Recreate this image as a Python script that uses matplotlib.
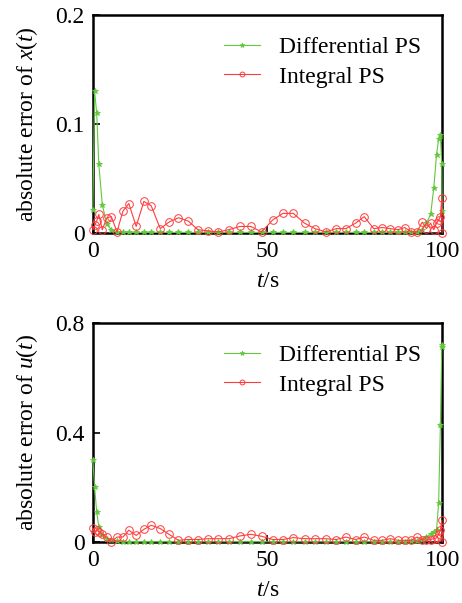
import matplotlib
matplotlib.use("Agg")
import matplotlib.pyplot as plt

# time nodes (pseudospectral nodes, clustered at the ends)
t_nodes = [0, 0.5, 1.1, 1.7, 2.7, 4.0, 5.3, 6.9, 8.6, 10.3, 12.4, 14.6, 16.7, 19.3,
           21.8, 24.5, 27.3, 30.1, 33.0, 35.9, 38.9, 42.1, 45.2, 48.3, 51.5, 54.4,
           57.4, 60.6, 63.6, 66.7, 69.7, 72.4, 75.2, 77.7, 80.4, 82.8, 85.2, 87.3,
           89.3, 91.2, 92.8, 94.3, 95.5, 96.7, 97.6, 98.4, 99.0, 99.5, 99.9, 100]

# absolute error of x(t)
x_diff = [0.021, 0.13, 0.11, 0.063, 0.026, 0.008, 0.003, 0.001, 0.0005, 0.0005,
          0.0005, 0.0005, 0.0005, 0.0005, 0.0005, 0.0005, 0.0005, 0.0005, 0.0005, 0.0005,
          0.0005, 0.0005, 0.0005, 0.0005, 0.0005, 0.0005, 0.0005, 0.0005, 0.0005, 0.0005,
          0.0005, 0.0005, 0.0005, 0.0005, 0.0005, 0.0005, 0.0005, 0.0005, 0.0005, 0.0005,
          0.001, 0.003, 0.009, 0.017, 0.041, 0.072, 0.086, 0.09, 0.063, 0.02]
x_int = [0.003, 0.007, 0.011, 0.017, 0.003, 0.014, 0.015, 0.001, 0.020, 0.027,
         0.006, 0.029, 0.025, 0.004, 0.010, 0.014, 0.011, 0.003, 0.002, 0.001,
         0.003, 0.006, 0.006, 0.001, 0.012, 0.018, 0.018, 0.009, 0.004, 0.001,
         0.004, 0.004, 0.009, 0.015, 0.004, 0.005, 0.004, 0.003, 0.005, 0.001,
         0.001, 0.010, 0.004, 0.009, 0.003, 0.009, 0.012, 0.015, 0.032, 0.0]

# absolute error of u(t)
u_diff = [0.30, 0.20, 0.11, 0.055, 0.024, 0.012, 0.006, 0.002, 0.001, 0.001,
          0.001, 0.001, 0.001, 0.001, 0.001, 0.001, 0.001, 0.001, 0.001, 0.001,
          0.001, 0.001, 0.001, 0.001, 0.001, 0.001, 0.001, 0.001, 0.001, 0.001,
          0.001, 0.001, 0.001, 0.001, 0.001, 0.001, 0.001, 0.001, 0.001, 0.002,
          0.004, 0.008, 0.018, 0.030, 0.037, 0.045, 0.143, 0.427, 0.714, 0.72]
u_int = [0.050, 0.037, 0.043, 0.037, 0.028, 0.018, 0.0, 0.018, 0.018, 0.043,
         0.024, 0.046, 0.061, 0.049, 0.028, 0.006, 0.009, 0.009, 0.012, 0.012,
         0.012, 0.022, 0.028, 0.021, 0.009, 0.009, 0.016, 0.012, 0.012, 0.012,
         0.009, 0.018, 0.009, 0.018, 0.006, 0.006, 0.012, 0.006, 0.006, 0.006,
         0.018, 0.009, 0.006, 0.009, 0.012, 0.015, 0.028, 0.043, 0.079, 0.0]

labels = ["Differential PS", "Integral PS"]
green = "#62c83e"
red = "#ff3c3c"

plt.rcParams["font.family"] = ["Liberation Serif", "DejaVu Serif"]
plt.rcParams["mathtext.fontset"] = "custom"
plt.rcParams["mathtext.rm"] = "Liberation Serif"
plt.rcParams["mathtext.it"] = "Liberation Serif:italic"
plt.rcParams["font.size"] = 17

fig = plt.figure(figsize=(4.62, 6.03), dpi=100)
ax1 = fig.add_axes([0.201, 0.6136, 0.756, 0.3615])
ax2 = fig.add_axes([0.201, 0.1012, 0.756, 0.363])


def draw(ax, diff, integ, ymax, yticks, ylab):
    ax.plot(t_nodes, diff, color=green, lw=0.8, marker="*", ms=4, mew=0.6,
            label=labels[0], clip_on=False, zorder=3)
    ax.plot(t_nodes, integ, color=red, lw=0.8, marker="o", ms=5.5, mfc="none",
            mew=0.7, label=labels[1], clip_on=False, zorder=3)
    ax.set_xlim(0, 100)
    ax.set_ylim(0, ymax)
    ax.set_xticks([0, 50, 100])
    ax.set_xticklabels(["0", "50", "100"])
    ax.set_yticks(yticks)
    ax.set_yticklabels([("%g" % v) for v in yticks])
    ax.tick_params(direction="in", length=5, width=1.2, pad=6,
                   top=False, right=False)
    for s in ax.spines.values():
        s.set_linewidth(1.8)
    ax.set_xlabel("$t$/s", labelpad=6)
    ax.set_ylabel(ylab, labelpad=11)
    leg = ax.legend(loc="upper right", frameon=False, handlelength=1.5,
                    handletextpad=0.8, labelspacing=0.35, borderaxespad=0.5,
                    fontsize=17)
    for h in leg.legend_handles:
        h.set_markersize(3.5)


draw(ax1, x_diff, x_int, 0.2, [0, 0.1, 0.2], "absolute error of $x(t)$")
draw(ax2, u_diff, u_int, 0.8, [0, 0.4, 0.8], "absolute error of $u(t)$")

fig.savefig("out.png", dpi=100)
